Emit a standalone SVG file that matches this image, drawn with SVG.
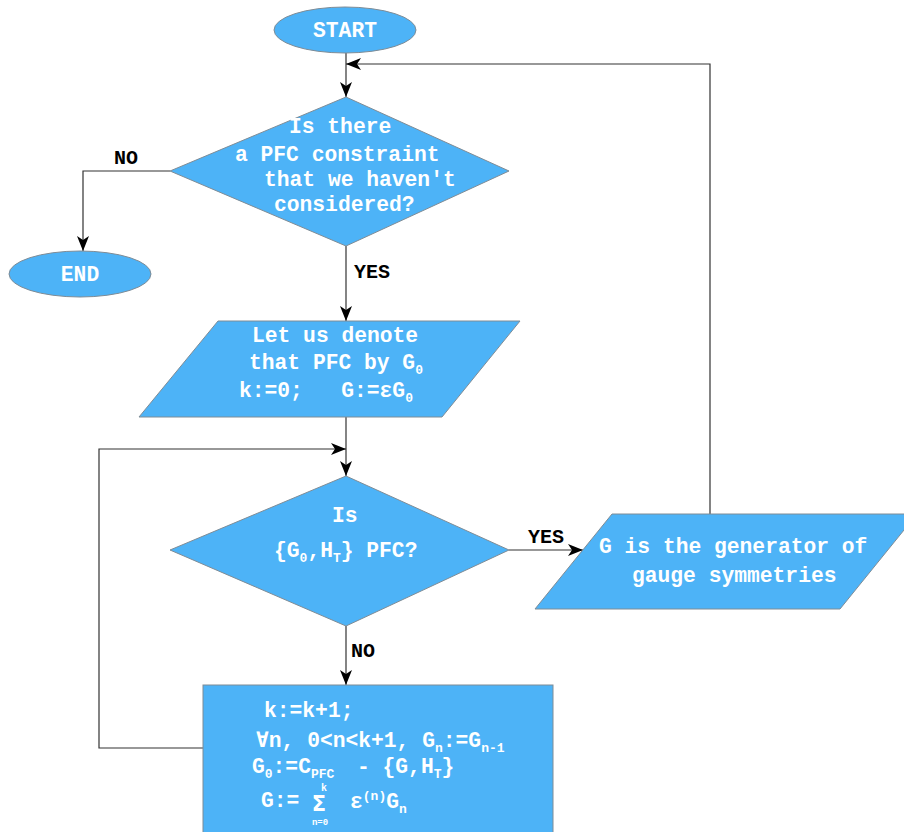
<svg xmlns="http://www.w3.org/2000/svg" width="904" height="832" viewBox="0 0 904 832">
<defs>
<style>
.shape{fill:#4db3f7;stroke:#7f8c96;stroke-width:1}
.t{fill:#ffffff;font-family:"Liberation Mono","DejaVu Sans Mono",monospace;font-weight:bold;font-size:21.3px}
.s{font-size:13px}
.lbl{fill:#000000;font-family:"Liberation Mono","DejaVu Sans Mono",monospace;font-weight:bold;font-size:20px}
.c{fill:none;stroke:#333333;stroke-width:1.2}
</style>
<marker id="ah" markerUnits="userSpaceOnUse" markerWidth="16" markerHeight="12" refX="15" refY="6" orient="auto">
<path d="M0,0 L15,6 L0,12 L4,6 z" fill="#000"/>
</marker>
</defs>
<rect width="904" height="832" fill="#ffffff"/>
<g id="connectors">
<path class="c" d="M346,53 V97" marker-end="url(#ah)"/>
<path class="c" d="M710,514 V64 H346" marker-end="url(#ah)"/>
<path class="c" d="M170,171 H83 V251" marker-end="url(#ah)"/>
<path class="c" d="M346,246 V321" marker-end="url(#ah)"/>
<path class="c" d="M346,417 V476" marker-end="url(#ah)"/>
<path class="c" d="M203,748 H99 V449 H346" marker-end="url(#ah)"/>
<path class="c" d="M509,550 H583" marker-end="url(#ah)"/>
<path class="c" d="M346,626 V685" marker-end="url(#ah)"/>
<text class="lbl" x="114" y="164">NO</text>
<text class="lbl" x="354" y="278">YES</text>
<text class="lbl" x="528" y="543">YES</text>
<text class="lbl" x="351" y="657">NO</text>
</g>
<g id="start">
<ellipse class="shape" cx="345" cy="30" rx="71" ry="23"/>
<text class="t" x="345" y="37" text-anchor="middle">START</text>
</g>
<g id="end">
<ellipse class="shape" cx="80" cy="274" rx="71" ry="23"/>
<text class="t" x="80" y="281" text-anchor="middle">END</text>
</g>
<g id="decision1">
<polygon class="shape" points="346,97 509,171 346,246 170,171"/>
<text class="t" x="289" y="133">Is there</text>
<text class="t" x="235" y="161">a PFC constraint</text>
<text class="t" x="264" y="186">that we haven't</text>
<text class="t" x="274" y="211">considered?</text>
</g>
<g id="denote">
<polygon class="shape" points="218,321 520,321 442,417 139,417"/>
<text class="t" x="252" y="342">Let us denote</text>
<text class="t" x="249" y="369">that PFC by G<tspan class="s" dy="5">0</tspan></text>
<text class="t" x="239" y="397" xml:space="preserve">k:=0;   G:=εG<tspan class="s" dy="5">0</tspan></text>
</g>
<g id="decision2">
<polygon class="shape" points="346,476 509,550 346,626 170,550"/>
<text class="t" x="332" y="522">Is</text>
<text class="t" x="274" y="557">{G<tspan class="s" dy="5">0</tspan><tspan dy="-5">,H</tspan><tspan class="s" dy="5">T</tspan><tspan dy="-5">} PFC?</tspan></text>
</g>
<g id="generator">
<polygon class="shape" points="612,514 917,514 840,609 535,609"/>
<text class="t" x="599" y="553">G is the generator of</text>
<text class="t" x="632" y="582">gauge symmetries</text>
</g>
<g id="update">
<rect class="shape" x="203" y="685" width="350" height="160"/>
<text class="t" x="264" y="717">k:=k+1;</text>
<text class="t" x="256" y="747">∀n, 0&lt;n&lt;k+1, G<tspan class="s" dy="5">n</tspan><tspan dy="-5">:=G</tspan><tspan class="s" dy="5">n-1</tspan></text>
<text class="t" x="252" y="773">G<tspan class="s" dy="5">0</tspan><tspan dy="-5">:=C</tspan><tspan class="s" dy="5">PFC</tspan><tspan x="357" dy="-5">- {G,H</tspan><tspan class="s" dy="5">T</tspan><tspan dy="-5">}</tspan></text>
<text class="t" x="324" y="791" text-anchor="middle" style="font-size:10px">k</text>
<text class="t" x="261" y="807">G:=</text>
<text class="t" x="319" y="811" text-anchor="middle" style="font-family:'DejaVu Sans',sans-serif;font-size:21px">Σ</text>
<text class="t" x="320" y="825" text-anchor="middle" style="font-size:9px">n=0</text>
<text class="t" x="350" y="808">ε<tspan class="s" dy="-8">(n)</tspan><tspan dy="8">G</tspan><tspan class="s" dy="5">n</tspan></text>
</g>
</svg>
